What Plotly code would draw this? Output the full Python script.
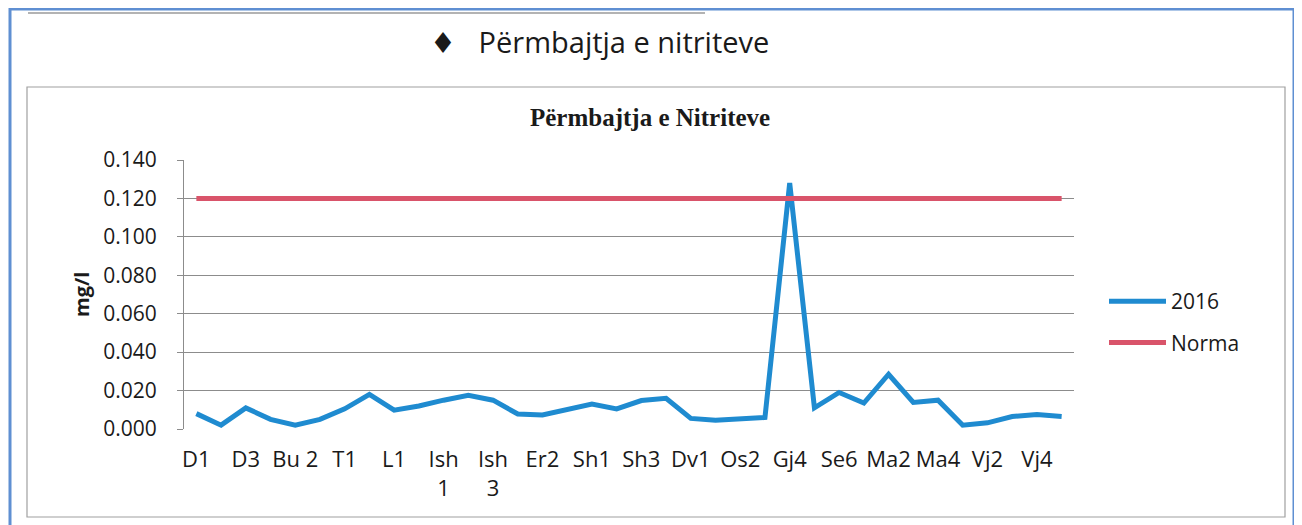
import plotly.graph_objects as go

# ---- data ----
categories = ["D1", "D2", "D3", "Bu 1", "Bu 2", "Bu 3", "T1", "T2", "L1", "L2",
              "Ish 1", "Ish 2", "Ish 3", "Er1", "Er2", "Er3", "Sh1", "Sh2", "Sh3", "Sh4",
              "Dv1", "Os1", "Os2", "Gj3", "Gj4", "Se5", "Se6", "Ma1", "Ma2", "Ma3",
              "Ma4", "Vj1", "Vj2", "Vj3", "Vj4", "Vj5"]
values_2016 = [0.008, 0.002, 0.011, 0.005, 0.002, 0.005, 0.0105, 0.018, 0.0098, 0.012,
               0.015, 0.0175, 0.015, 0.0078, 0.0073, 0.010, 0.013, 0.0105, 0.0148, 0.016,
               0.0055, 0.0045, 0.0055, 0.006, 0.128, 0.011, 0.019, 0.0135, 0.0285, 0.0138,
               0.015, 0.002, 0.0032, 0.0065, 0.0075, 0.0065]
norma_value = 0.120
norma = [norma_value] * len(categories)
shown_ticks = categories[::2]
shown_text = ["D1", "D3", "Bu 2", "T1", "L1", "Ish<br>1", "Ish<br>3", "Er2", "Sh1",
              "Sh3", "Dv1", "Os2", "Gj4", "Se6", "Ma2", "Ma4", "Vj2", "Vj4"]
y_ticks = [0.0, 0.02, 0.04, 0.06, 0.08, 0.10, 0.12, 0.14]
y_ticktext = ["0.000", "0.020", "0.040", "0.060", "0.080", "0.100", "0.120", "0.140"]

# ---- layout geometry (page pixels; the page body adds an 8px offset) ----
OFF = 8
PAGE_W, PAGE_H = 1302, 525
W, H = PAGE_W - OFF, PAGE_H - OFF
PLOT_X0, PLOT_X1 = 184, 1074      # page px
PLOT_Y0, PLOT_Y1 = 160, 429       # page px (top, bottom)
L = PLOT_X0 - OFF
R = W - (PLOT_X1 - OFF)
T = PLOT_Y0 - OFF
B = H - (PLOT_Y1 - OFF)
PW = PLOT_X1 - PLOT_X0
PH = PLOT_Y1 - PLOT_Y0


def xp(px):
    return (px - PLOT_X0) / PW


def yp(py):
    return (PLOT_Y1 - py) / PH


SANS = "Open Sans, Lato, DejaVu Sans, sans-serif"
BLUE = "#1f8bd0"
RED = "#d9546a"
GRID = "#8c8c8c"

fig = go.Figure()
fig.add_trace(go.Scatter(x=categories, y=values_2016, mode="lines", name="2016",
                         line=dict(color=BLUE, width=5), legendgroup="a"))
fig.add_trace(go.Scatter(x=categories, y=norma, mode="lines", name="Norma",
                         line=dict(color=RED, width=5), legendgroup="b"))

fig.update_layout(
    width=W, height=H,
    margin=dict(l=L, r=R, t=T, b=B, pad=0),
    paper_bgcolor="white", plot_bgcolor="white",
    font=dict(family=SANS, color="#1a1a1a", size=18),
    showlegend=True,
    legend=dict(x=xp(1104), y=yp(281), xanchor="left", yanchor="top",
                font=dict(size=21, family=SANS, color="#1a1a1a"),
                itemwidth=57, tracegroupgap=11, bgcolor="rgba(0,0,0,0)"),
    xaxis=dict(type="category", range=[-0.5, len(categories) - 0.5],
               tickmode="array", tickvals=shown_ticks, ticktext=shown_text,
               tickangle=0, showgrid=False, showline=False, zeroline=False,
               ticks="", tickfont=dict(size=22, family=SANS, color="#1a1a1a"),
               ticklabelstandoff=15),
    yaxis=dict(range=[0, 0.14], tickmode="array", tickvals=y_ticks, ticktext=y_ticktext,
               showgrid=True, gridcolor=GRID, gridwidth=1, zeroline=False,
               showline=True, linecolor=GRID, linewidth=1,
               ticks="outside", ticklen=6, tickcolor=GRID,
               tickfont=dict(size=21, family=SANS, color="#1a1a1a"),
               ticklabelstandoff=16),
)

annotations = [
    dict(text="\u2666&nbsp;&nbsp;&nbsp;Përmbajtja e nitriteve", x=xp(428), y=yp(41),
         xref="paper", yref="paper", xanchor="left", yanchor="middle", showarrow=False,
         font=dict(size=29, family=SANS, color="#1a1a1a")),
    dict(text="<b>Përmbajtja e Nitriteve</b>", x=xp(650), y=yp(117),
         xref="paper", yref="paper", xanchor="center", yanchor="middle", showarrow=False,
         font=dict(size=25, family="Liberation Serif, Times New Roman, serif", color="#1a1a1a")),
    dict(text="<b>mg/l</b>", x=xp(81), y=yp(295), textangle=-90,
         xref="paper", yref="paper", xanchor="center", yanchor="middle", showarrow=False,
         font=dict(size=20, family=SANS, color="#1a1a1a")),
]
fig.update_layout(annotations=annotations)

shapes = [
    # outer scanned page border
    dict(type="rect", xref="paper", yref="paper", x0=xp(10), x1=xp(1294), y0=yp(540), y1=yp(9),
         line=dict(color="#5f8fd2", width=3), fillcolor="rgba(0,0,0,0)", layer="below"),
    # faint line of previous element at top
    dict(type="line", xref="paper", yref="paper", x0=xp(28), x1=xp(705), y0=yp(13), y1=yp(13),
         line=dict(color="#9a9a9a", width=1.5), layer="below"),
    # chart frame
    dict(type="rect", xref="paper", yref="paper", x0=xp(27), x1=xp(1285), y0=yp(517), y1=yp(87),
         line=dict(color="#a0a0a0", width=1.2), fillcolor="rgba(0,0,0,0)", layer="below"),
]
fig.update_layout(shapes=shapes)

fig.write_html("out.html")
